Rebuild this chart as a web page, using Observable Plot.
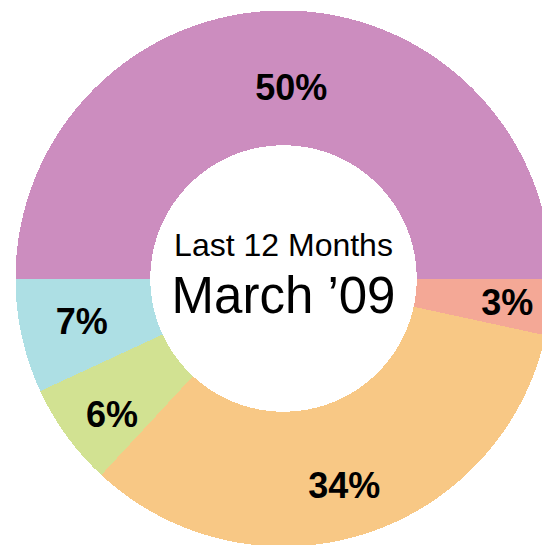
<!DOCTYPE html>
<html><head><meta charset="utf-8">
<script src="https://cdn.jsdelivr.net/npm/d3@7"></script>
<script src="https://cdn.jsdelivr.net/npm/@observablehq/plot@0.6"></script>
<style>html,body{margin:0;padding:0;background:#fff}</style>
</head><body><div id="chart"></div>
<script>
// ---- data ----
const labels = ["50%", "3%", "34%", "6%", "7%"];
const shares = [50, 3.4, 33.5, 6.2, 6.9];
const colors = ["#cc8dbf", "#f4a896", "#f8c885", "#d2e292", "#addfe4"];
const centerLines = ["Last 12 Months", "March \u201909"];

// ---- layout ----
const W = 542, H = 545;
const cx = 283, cy = 278, R = 268;   // donut centre & outer radius in px
const innerRatio = 0.497;
const labelRadius = [0.71, 0.84, 0.81, 0.82, 0.77];
const labelAlong = [0.513, 0.52, 0.51, 0.38, 0.51];  // position of label along its slice
const font = "'Liberation Sans', Arial, Helvetica, sans-serif";

// ---- geometry from data (angles clockwise starting at 9 o'clock) ----
const total = d3.sum(shares);
let cum = 0;
const slices = shares.map((v, i) => {
  const f0 = cum / total; cum += v; const f1 = cum / total;
  return {key: labels[i], f0, f1, i};
});
const ang = f => Math.PI - 2 * Math.PI * f;
const pts = [];
for (const s of slices) {
  const n = Math.max(4, Math.ceil((s.f1 - s.f0) * 720));
  const outer = d3.range(n + 1).map(k => s.f0 + (s.f1 - s.f0) * k / n);
  for (const f of outer) pts.push({key: s.key, x: Math.cos(ang(f)), y: Math.sin(ang(f))});
  for (const f of outer.slice().reverse()) pts.push({key: s.key, x: innerRatio * Math.cos(ang(f)), y: innerRatio * Math.sin(ang(f))});
}
const labelData = slices.map(s => {
  const a = ang(s.f0 + (s.f1 - s.f0) * labelAlong[s.i]), r = labelRadius[s.i];
  return {key: s.key, x: r * Math.cos(a), y: r * Math.sin(a)};
});

const chart = Plot.plot({
  width: W, height: H, margin: 0,
  style: {fontFamily: font, background: "#fff"},
  x: {domain: [-cx / R, (W - cx) / R], range: [0, W], axis: null},
  y: {domain: [-(H - cy) / R, cy / R], range: [H, 0], axis: null},
  color: {domain: labels, range: colors},
  marks: [
    Plot.line(pts, {x: "x", y: "y", z: "key", fill: "key", stroke: "none", curve: "linear", shapeRendering: "crispEdges"}),
    Plot.text(labelData, {x: "x", y: "y", text: "key", fontSize: 36, fontWeight: "bold", fill: "#000", fontFamily: font}),
    Plot.text([centerLines[0]], {x: () => 0, y: () => 0, text: d => d, fontSize: 32, lineAnchor: "bottom", dy: -23, fill: "#000", fontFamily: font}),
    Plot.text([centerLines[1]], {x: () => 0, y: () => 0, text: d => d, fontSize: 51, lineAnchor: "bottom", dy: 34, fill: "#000", fontFamily: font})
  ]
});
document.getElementById("chart").appendChild(chart);
</script>
</body></html>
